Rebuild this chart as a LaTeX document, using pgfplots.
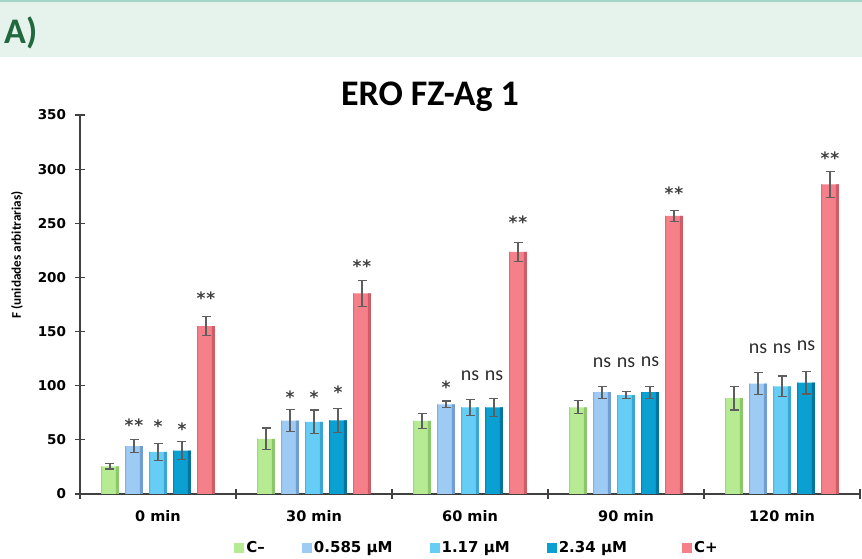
\documentclass[border=0pt]{standalone}
\usepackage{fontspec}
\setmainfont{Carlito}
\newfontfamily\tickfont{DejaVu Sans}
\usepackage{pgfplots}
\usepackage{pgfplotstable}
\pgfplotsset{compat=1.18}
\definecolor{hdr}{HTML}{E5F3EC}
\definecolor{hdrline}{HTML}{A3D5C6}
\definecolor{hdrtext}{HTML}{21683F}
\definecolor{axgray}{HTML}{404040}
\definecolor{errgray}{HTML}{5E5E5E}
\definecolor{gB}{HTML}{B6EB93}\definecolor{gC}{HTML}{8CC86B}
\definecolor{lB}{HTML}{9DCBF4}\definecolor{lC}{HTML}{6F9DD4}
\definecolor{cB}{HTML}{66CEF5}\definecolor{cC}{HTML}{3AA6D6}
\definecolor{tB}{HTML}{0AA0D2}\definecolor{tC}{HTML}{05739F}
\definecolor{rB}{HTML}{F5808A}\definecolor{rC}{HTML}{CF5C66}
% series tables: x = group + offset, y = mean, e = error
\pgfplotstableread{
x y e
-0.3077 25.5 2.5
0.6923 51 10
1.6923 67.5 7
2.6923 80 6
3.6923 88.5 11
}\tCm
\pgfplotstableread{
x y e
-0.1538 44.3 6
0.8462 67.7 10
1.8462 82.8 3
2.8462 94 5.5
3.8462 102 10
}\tA
\pgfplotstableread{
x y e
0 38.8 8
1 66.5 11
2 80 7.5
3 91.4 3
4 99.5 9.5
}\tB
\pgfplotstableread{
x y e
0.1538 40 8.5
1.1538 68 11
2.1538 80 8.5
3.1538 94 5.5
4.1538 102.8 10.5
}\tC
\pgfplotstableread{
x y e
0.3077 155 9
1.3077 185.3 12
2.3077 223.5 8.5
3.3077 256.8 5
4.3077 286 12
}\tCp
\begin{document}
\begin{tikzpicture}[x=1pt,y=1pt]
\path[use as bounding box] (0,0) rectangle (862,559);
\fill[hdr] (0,502) rectangle (862,559);
\draw[hdrline, line width=1.5pt] (0,558.2) -- (862,558.2);
\node[anchor=west, inner sep=0, text=hdrtext, font=\fontsize{36}{40}\selectfont\bfseries] at (4,526) {A)};
\node[font=\fontsize{36}{40}\selectfont\bfseries] at (430,462) {ERO FZ-Ag 1};
\node[rotate=90, font=\fontsize{13.2}{15}\selectfont\bfseries] at (17,304) {F (unidades arbitrarias)};
\begin{axis}[
  at={(80pt,65pt)}, anchor=south west,
  scale only axis, width=780pt, height=379pt,
  xmin=-0.5, xmax=4.5, ymin=0, ymax=350,
  axis x line=bottom, axis y line=left,
  axis line style={axgray, line width=1.2pt, -},
  tick style={axgray, line width=1.2pt},
  tick align=center, major tick length=9pt,
  xtick={0,1,2,3,4},
  xticklabels={0 min,30 min,60 min,90 min,120 min},
  major x tick style={draw=none},
  minor xtick={-0.5,0.5,1.5,2.5,3.5,4.5},
  minor tick length=10pt,
  minor x tick style={axgray, line width=1.2pt},
  ytick={0,50,...,350},
  /pgf/number format/assume math mode=true,
  yticklabel style={font=\tickfont\fontsize{13.5}{15}\selectfont\bfseries, xshift=-6pt},
  xticklabel style={font=\tickfont\fontsize{14.5}{16}\selectfont\bfseries, yshift=-8pt},
  error bars/error bar style={errgray, line width=1.2pt},
  error bars/error mark options={rotate=90, errgray, mark size=4.5pt, line width=1.2pt},
  legend columns=5,
  legend style={draw=none, fill=none, at={(0.509,-0.1425)}, anchor=center,
    font=\tickfont\fontsize{15}{17}\selectfont\bfseries,
    /tikz/every even column/.append style={column sep=35pt}},
  legend image code/.code={\fill[#1] (0pt,-5pt) rectangle (10pt,5pt);},
  clip=false,
]
% base bars with error bars
\addplot[ybar, bar width=0.115, fill=gB, draw=none, error bars/.cd, y dir=both, y explicit] table[x=x,y=y,y error=e]{\tCm};
\addplot[ybar, bar width=0.115, fill=lB, draw=none, error bars/.cd, y dir=both, y explicit] table[x=x,y=y,y error=e]{\tA};
\addplot[ybar, bar width=0.115, fill=cB, draw=none, error bars/.cd, y dir=both, y explicit] table[x=x,y=y,y error=e]{\tB};
\addplot[ybar, bar width=0.115, fill=tB, draw=none, error bars/.cd, y dir=both, y explicit] table[x=x,y=y,y error=e]{\tC};
\addplot[ybar, bar width=0.115, fill=rB, draw=none, error bars/.cd, y dir=both, y explicit] table[x=x,y=y,y error=e]{\tCp};
\legend{C\textendash,0.585 µM,1.17 µM,2.34 µM\kern18pt\null,C+}
% bevel edges
\addplot[ybar, forget plot, bar width=0.02, bar shift=0.0475, fill=gC, draw=none] table[x=x,y=y]{\tCm};
\addplot[ybar, forget plot, bar width=0.007, bar shift=-0.054, fill=gC!60!gB, draw=none] table[x=x,y=y]{\tCm};
\addplot[ybar, forget plot, bar width=0.02, bar shift=0.0475, fill=lC, draw=none] table[x=x,y=y]{\tA};
\addplot[ybar, forget plot, bar width=0.007, bar shift=-0.054, fill=lC!60!lB, draw=none] table[x=x,y=y]{\tA};
\addplot[ybar, forget plot, bar width=0.02, bar shift=0.0475, fill=cC, draw=none] table[x=x,y=y]{\tB};
\addplot[ybar, forget plot, bar width=0.007, bar shift=-0.054, fill=cC!60!cB, draw=none] table[x=x,y=y]{\tB};
\addplot[ybar, forget plot, bar width=0.02, bar shift=0.0475, fill=tC, draw=none] table[x=x,y=y]{\tC};
\addplot[ybar, forget plot, bar width=0.007, bar shift=-0.054, fill=tC!60!tB, draw=none] table[x=x,y=y]{\tC};
\addplot[ybar, forget plot, bar width=0.02, bar shift=0.0475, fill=rC, draw=none] table[x=x,y=y]{\tCp};
\addplot[ybar, forget plot, bar width=0.007, bar shift=-0.054, fill=rC!60!rB, draw=none] table[x=x,y=y]{\tCp};
% significance labels
\tikzset{st/.style={font=\tickfont\fontsize{17}{19}\selectfont\bfseries, text=axgray, inner sep=0, yshift=-3pt},
         ns/.style={font=\fontsize{20}{22}\selectfont, text=axgray!70!black, inner sep=0}}
\node[st] at (axis cs:-0.1538,66.5) {*\kern1pt*};
\node[st] at (axis cs:0,65.5) {*};
\node[st] at (axis cs:0.1538,63) {*};
\node[st] at (axis cs:0.3077,184) {*\kern1pt*};
\node[st] at (axis cs:0.8462,92) {*};
\node[st] at (axis cs:1,92) {*};
\node[st] at (axis cs:1.1538,96.7) {*};
\node[st] at (axis cs:1.3077,213) {*\kern1pt*};
\node[st] at (axis cs:1.8462,101.6) {*};
\node[ns] at (axis cs:2,109.5) {ns};
\node[ns] at (axis cs:2.1538,109.5) {ns};
\node[st] at (axis cs:2.3077,254) {*\kern1pt*};
\node[ns] at (axis cs:2.8462,121) {ns};
\node[ns] at (axis cs:3,121) {ns};
\node[ns] at (axis cs:3.1538,122.5) {ns};
\node[st] at (axis cs:3.3077,281) {*\kern1pt*};
\node[ns] at (axis cs:3.8462,134.5) {ns};
\node[ns] at (axis cs:4,134.5) {ns};
\node[ns] at (axis cs:4.1538,136.6) {ns};
\node[st] at (axis cs:4.3077,313) {*\kern1pt*};
\end{axis}
\end{tikzpicture}
\end{document}
